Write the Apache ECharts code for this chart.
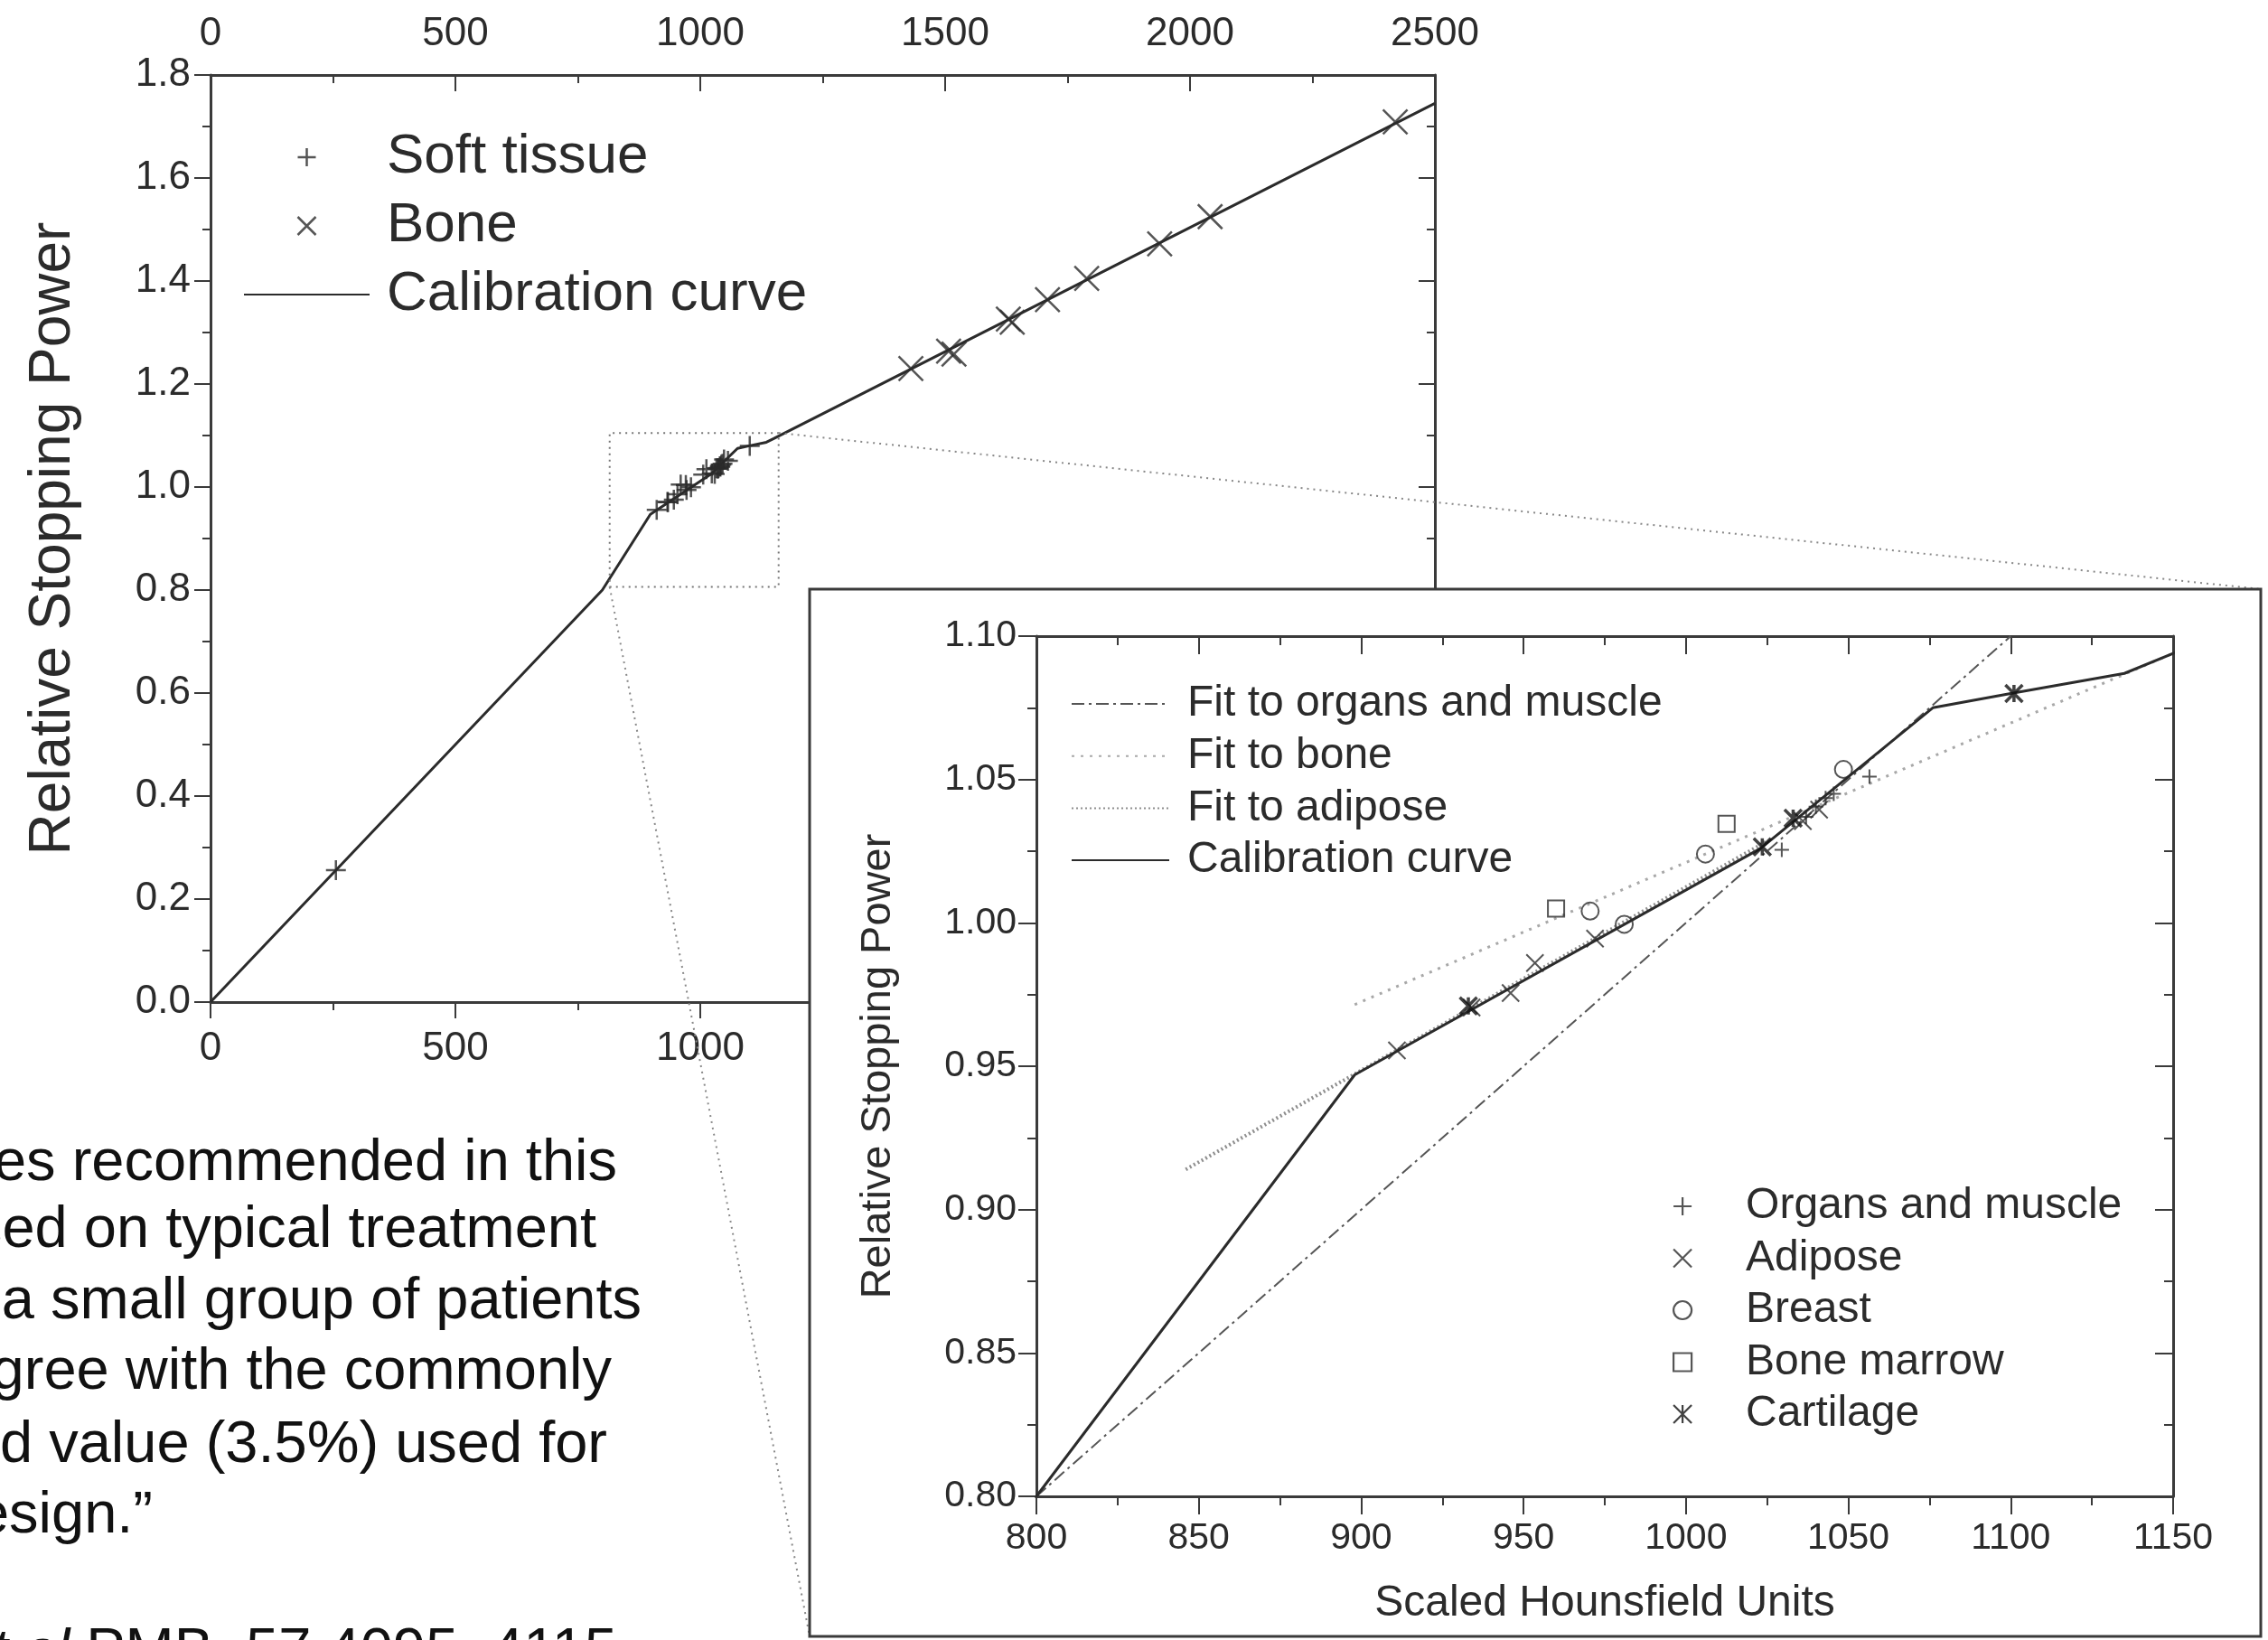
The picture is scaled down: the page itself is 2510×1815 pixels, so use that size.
<!DOCTYPE html>
<html><head><meta charset="utf-8">
<script src="https://cdn.jsdelivr.net/npm/echarts@6/dist/echarts.min.js"></script>
<style>html,body{margin:0;padding:0;background:#fff;overflow:hidden}#c{width:2510px;height:1815px}</style>
</head><body><div id="c"></div>
<script>
// ---------------- data ----------------
const mainXTickLabels = ['0','500','1000','1500','2000','2500'];
const mainYTickLabels = ['0.0','0.2','0.4','0.6','0.8','1.0','1.2','1.4','1.6','1.8'];
const insetXTickLabels = ['800','850','900','950','1000','1050','1100','1150'];
const insetYTickLabels = ['0.80','0.85','0.90','0.95','1.00','1.05','1.10'];

const calX = [0, 800, 898, 1023, 1076, 1100, 1135, 1150, 2500];
const calY = [0, 0.800, 0.947, 1.026, 1.075, 1.080, 1.087, 1.094, 1.745];

const lungX = [256];
const lungY = [0.256];

const boneX = [1430, 1507, 1518, 1629, 1637, 1709, 1789, 1938, 2041, 2419];
const boneY = [1.230, 1.264, 1.258, 1.326, 1.320, 1.364, 1.405, 1.472, 1.525, 1.709];

const organX = [1029.5, 1037, 1040, 1043, 1045.5, 1056.5];
const organY = [1.0255, 1.0370, 1.0405, 1.0435, 1.0450, 1.0510];

const adiposeX = [911, 934, 946, 953.5, 972, 1036, 1041];
const adiposeY = [0.9555, 0.9705, 0.9755, 0.9860, 0.9945, 1.0355, 1.0395];

const breastX = [970.5, 981, 1006, 1048.5];
const breastY = [1.0041, 0.9995, 1.0240, 1.0535];

const marrowX = [960, 1012.5];
const marrowY = [1.0050, 1.0345];

const cartX = [933, 1023.5, 1033, 1101];
const cartY = [0.9710, 1.0265, 1.0365, 1.0800];

const organFitX = [800, 1100];
const organFitY = [0.800, 1.100];
const boneFitX = [898, 1150];
const boneFitY = [0.9715, 1.094];
const adiposeFitX = [846, 1025];
const adiposeFitY = [0.914, 1.0285];

// dotted zoom rectangle as drawn on the main panel
const zoomBoxX = [815, 1160, 1160, 815, 815];
const zoomBoxY = [0.806, 0.806, 1.105, 1.105, 0.806];

const paraLines = ['es recommended in this', 'sed on typical treatment', 'a small group of patients',
                   'gree with the commonly', 'd value (3.5%) used for', 'esign.\u201d'];
const refItalic = 'et al';
const refPlain = ' PMB, 57 4095\u20134115';

// ---------------- layout / style ----------------
const FONT = '"Liberation Sans", Arial, Helvetica, sans-serif';
const INK = '#2b2b2b';
const AX = '#3a3a3a';
const zip = (xs, ys) => xs.map((x, i) => [x, ys[i]]);
const soft = {
  x: [].concat(lungX, organX, adiposeX, breastX, marrowX, cartX),
  y: [].concat(lungY, organY, adiposeY, breastY, marrowY, cartY)
};
const PLUS = 'path://M5 0L5 10M0 5L10 5';
const CROSS = 'path://M0 0L10 10M10 0L0 10';
const STAR = 'path://M0 0L10 10M10 0L0 10M5 0L5 10';
const SQUARE = 'path://M0 0L10 0L10 10L0 10Z';

const grids = [
  {left: 233, top: 83, width: 1355, height: 1026, outerBoundsMode: 'none'},
  {left: 1147, top: 704, width: 1258, height: 952, outerBoundsMode: 'none'}
];
const insetBox = {x: 896, y: 652, w: 1606, h: 1159};

function axis(o) {
  const base = {
    type: 'value', gridIndex: o.grid, min: o.min, max: o.max, interval: o.interval,
    position: o.position, z: o.z || 0,
    axisLine: {show: true, onZero: false, lineStyle: {color: AX, width: 3}},
    axisTick: {show: true, inside: o.inside, length: o.tick, lineStyle: {color: AX, width: 2}},
    minorTick: {show: true, splitNumber: 2, length: o.tick / 2, lineStyle: {color: AX, width: 2}},
    splitLine: {show: false}, minorSplitLine: {show: false},
    axisLabel: {show: !!o.labels, margin: o.margin, fontSize: o.fs, color: INK, fontFamily: FONT,
      formatter: o.labels ? (v) => o.labels[Math.round((v - o.min) / o.interval)] : undefined},
    axisPointer: {show: false}
  };
  if (o.name) {
    Object.assign(base, {name: o.name, nameLocation: 'middle', nameGap: o.nameGap, nameMoveOverlap: false,
      nameTextStyle: {fontSize: o.nfs, color: INK, fontFamily: FONT}});
  }
  return base;
}
const lineItem = (n) => ({name: n, itemStyle: {opacity: 0}});

const option = {
  animation: false,
  backgroundColor: '#ffffff',
  grid: grids,
  xAxis: [
    axis({grid: 0, min: 0, max: 2500, interval: 500, position: 'bottom', inside: false, tick: 18, margin: 30, fs: 44, labels: mainXTickLabels}),
    axis({grid: 0, min: 0, max: 2500, interval: 500, position: 'top', inside: true, tick: 18, margin: 23, fs: 44, labels: mainXTickLabels}),
    axis({grid: 1, min: 800, max: 1150, interval: 50, position: 'bottom', inside: false, tick: 20, margin: 26, fs: 41, labels: insetXTickLabels, z: 60,
          name: 'Scaled Hounsfield Units', nameGap: 95, nfs: 48}),
    axis({grid: 1, min: 800, max: 1150, interval: 50, position: 'top', inside: true, tick: 20, z: 60})
  ],
  yAxis: [
    axis({grid: 0, min: 0, max: 1.8, interval: 0.2, position: 'left', inside: false, tick: 18, margin: 22, fs: 44, labels: mainYTickLabels,
          name: 'Relative Stopping Power', nameGap: 142, nfs: 64}),
    axis({grid: 0, min: 0, max: 1.8, interval: 0.2, position: 'right', inside: true, tick: 18}),
    axis({grid: 1, min: 0.8, max: 1.1, interval: 0.05, position: 'left', inside: false, tick: 20, margin: 22, fs: 41, labels: insetYTickLabels, z: 60,
          name: 'Relative Stopping Power', nameGap: 151, nfs: 47}),
    axis({grid: 1, min: 0.8, max: 1.1, interval: 0.05, position: 'right', inside: true, tick: 20, z: 60})
  ],
  legend: [
    {left: 269, top: 143, orient: 'vertical', align: 'left', itemWidth: 139, itemHeight: 20, itemGap: 14, padding: 0, z: 10,
     selectedMode: false, data: ['Soft tissue', 'Bone', lineItem('Calibration curve')],
     itemStyle: {borderWidth: 2.5},
     textStyle: {fontSize: 62, color: INK, fontFamily: FONT, lineHeight: 20, padding: [0, 0, 0, 14]}},
    {left: 1185, top: 755, orient: 'vertical', align: 'left', itemWidth: 108, itemHeight: 14, itemGap: 9.7, padding: 0, z: 70,
     selectedMode: false,
     data: [lineItem('Fit to organs and muscle'), lineItem('Fit to bone'), lineItem('Fit to adipose'), lineItem('Calibration curve')],
     textStyle: {fontSize: 48, color: INK, fontFamily: FONT, lineHeight: 14, padding: [0, 0, 0, 15]}},
    {left: 1851, top: 1311, orient: 'vertical', align: 'left', itemWidth: 130, itemHeight: 20, itemGap: 9.5, padding: 0, z: 70,
     selectedMode: false, data: ['Organs and muscle', 'Adipose', 'Breast', 'Bone marrow', 'Cartilage'],
     itemStyle: {borderWidth: 2.2},
     textStyle: {fontSize: 48, color: INK, fontFamily: FONT, lineHeight: 20}}
  ],
  series: [
    // ---- main chart ----
    {name: 'Calibration curve', type: 'line', xAxisIndex: 0, yAxisIndex: 0, z: 3, symbol: 'none', silent: true, color: INK,
     data: zip(calX, calY), lineStyle: {color: INK, width: 3}},
    {name: 'Soft tissue', type: 'scatter', xAxisIndex: 0, yAxisIndex: 0, z: 4, symbol: PLUS, symbolSize: 22, silent: true,
     data: zip(soft.x, soft.y), itemStyle: {color: 'transparent', borderColor: INK, borderWidth: 2.5}},
    {name: 'Bone', type: 'scatter', xAxisIndex: 0, yAxisIndex: 0, z: 4, symbol: CROSS, symbolSize: 27, silent: true,
     data: zip(boneX, boneY), itemStyle: {color: 'transparent', borderColor: INK, borderWidth: 2.5}},
    {name: 'zoom region', type: 'line', xAxisIndex: 0, yAxisIndex: 0, z: 3, symbol: 'none', silent: true,
     data: zip(zoomBoxX, zoomBoxY), lineStyle: {color: '#777', width: 2, type: [2, 5]}},
    // ---- inset ----
    {name: 'Fit to organs and muscle', type: 'line', xAxisIndex: 2, yAxisIndex: 2, z: 61, symbol: 'none', silent: true, color: '#555',
     data: zip(organFitX, organFitY), lineStyle: {color: '#555', width: 2, type: [14, 5, 3, 5]}},
    {name: 'Fit to bone', type: 'line', xAxisIndex: 2, yAxisIndex: 2, z: 61, symbol: 'none', silent: true, color: '#a8a8a8',
     data: zip(boneFitX, boneFitY), lineStyle: {color: '#a8a8a8', width: 3, type: [3, 7]}},
    {name: 'Fit to adipose', type: 'line', xAxisIndex: 2, yAxisIndex: 2, z: 61, symbol: 'none', silent: true, color: '#8e8e8e',
     data: zip(adiposeFitX, adiposeFitY), lineStyle: {color: '#8e8e8e', width: 4, type: [2, 3]}},
    {name: 'Calibration curve', type: 'line', xAxisIndex: 2, yAxisIndex: 2, z: 62, symbol: 'none', silent: true, clip: true, color: INK,
     data: zip(calX, calY), lineStyle: {color: INK, width: 3}},
    {name: 'Organs and muscle', type: 'scatter', xAxisIndex: 2, yAxisIndex: 2, z: 63, symbol: PLUS, symbolSize: 16, silent: true,
     data: zip(organX, organY), itemStyle: {color: 'transparent', borderColor: INK, borderWidth: 2}},
    {name: 'Adipose', type: 'scatter', xAxisIndex: 2, yAxisIndex: 2, z: 63, symbol: CROSS, symbolSize: 19, silent: true,
     data: zip(adiposeX, adiposeY), itemStyle: {color: 'transparent', borderColor: INK, borderWidth: 2}},
    {name: 'Breast', type: 'scatter', xAxisIndex: 2, yAxisIndex: 2, z: 63, symbol: 'circle', symbolSize: 19, silent: true,
     data: zip(breastX, breastY), itemStyle: {color: 'transparent', borderColor: INK, borderWidth: 2}},
    {name: 'Bone marrow', type: 'scatter', xAxisIndex: 2, yAxisIndex: 2, z: 63, symbol: SQUARE, symbolSize: 18, silent: true,
     data: zip(marrowX, marrowY), itemStyle: {color: 'transparent', borderColor: INK, borderWidth: 2}},
    {name: 'Cartilage', type: 'scatter', xAxisIndex: 2, yAxisIndex: 2, z: 63, symbol: STAR, symbolSize: 19, silent: true,
     data: zip(cartX, cartY), itemStyle: {color: 'transparent', borderColor: '#111', borderWidth: 3.5}}
  ]
};

const chart = echarts.init(document.getElementById('c'), null, {renderer: 'canvas'});
chart.setOption(option);

// ---- annotation graphics: inset frame, connector lines, side text ----
const tr = chart.convertToPixel({gridIndex: 0}, [zoomBoxX[1], zoomBoxY[2]]);
const bl = chart.convertToPixel({gridIndex: 0}, [zoomBoxX[0], zoomBoxY[0]]);
const paraRight = [683, 660, 710, 677, 672, 169];
const paraBase = [1308, 1382, 1461, 1539, 1620, 1698];
const PFS = 65;
const measure = (() => { const ctx = document.createElement('canvas').getContext('2d');
  return (t, f) => { ctx.font = f; return ctx.measureText(t).width; }; })();
const plainFont = PFS + 'px ' + FONT;
const italicFont = 'italic ' + PFS + 'px ' + FONT;
const graphics = [
  {type: 'line', z: 5, silent: true, shape: {x1: tr[0], y1: tr[1], x2: insetBox.x + insetBox.w, y2: insetBox.y},
   style: {stroke: '#888', lineWidth: 2, lineDash: [2, 5]}},
  {type: 'line', z: 5, silent: true, shape: {x1: bl[0], y1: bl[1], x2: insetBox.x, y2: insetBox.y + insetBox.h},
   style: {stroke: '#888', lineWidth: 2, lineDash: [2, 5]}},
  {type: 'rect', z: 50, silent: true, shape: {x: insetBox.x, y: insetBox.y, width: insetBox.w, height: insetBox.h},
   style: {fill: '#ffffff', stroke: '#3a3a3a', lineWidth: 3}}
];
paraLines.forEach((t, i) => {
  graphics.push({type: 'text', z: 1, silent: true,
    style: {text: t, x: paraRight[i], y: paraBase[i] - 0.31 * PFS, fill: '#111', font: plainFont,
            textAlign: 'right', align: 'right', textVerticalAlign: 'middle', verticalAlign: 'middle'}});
});
const refBase = 1851, refRight = 683;
graphics.push({type: 'text', z: 1, silent: true,
  style: {text: refPlain, x: refRight, y: refBase - 0.33 * PFS, fill: '#111', font: plainFont,
          textAlign: 'right', align: 'right', textVerticalAlign: 'middle', verticalAlign: 'middle'}});
graphics.push({type: 'text', z: 1, silent: true,
  style: {text: refItalic, x: refRight - measure(refPlain, plainFont), y: refBase - 0.33 * PFS, fill: '#111', font: italicFont,
          textAlign: 'right', align: 'right', textVerticalAlign: 'middle', verticalAlign: 'middle'}});
chart.setOption({graphic: {elements: graphics}});
</script>
</body></html>
